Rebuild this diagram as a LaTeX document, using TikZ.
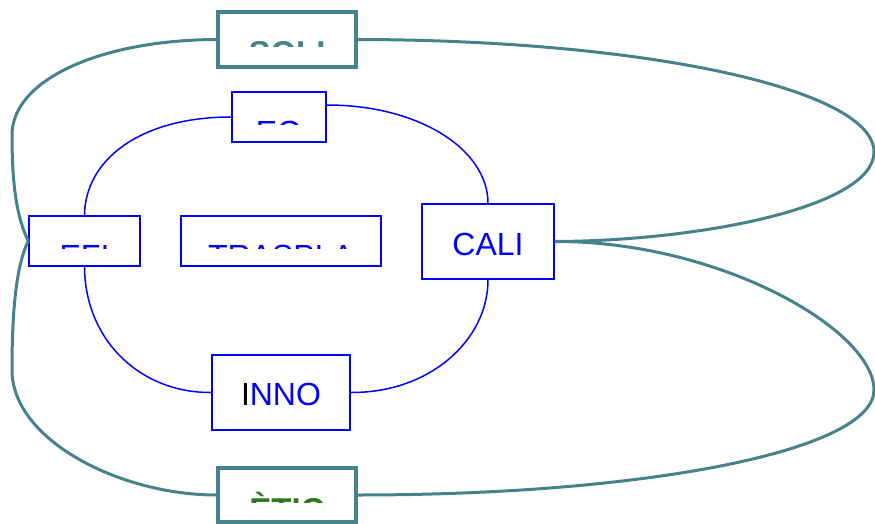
\documentclass[tikz,border=0pt]{standalone}
\usepackage{fontspec}
\setmainfont{Liberation Sans}
\definecolor{tealc}{RGB}{70,130,140}
\definecolor{greenc}{RGB}{46,120,30}
\tikzset{
  bluebox/.style={draw=blue, line width=1.5pt, inner sep=0pt},
  tealbox/.style={draw=tealc, line width=3.2pt, inner sep=0pt},
  blueline/.style={draw=blue, line width=1.5pt},
  tealline/.style={draw=tealc, line width=3pt},
  lbl/.style={font=\fontsize{32}{38}\selectfont, inner sep=0pt, text=blue},
  blbl/.style={font=\fontsize{33}{39}\selectfont\bfseries, inner sep=0pt},
}
\begin{document}
\begin{tikzpicture}[x=1pt,y=-1pt]
\useasboundingbox (0,0) rectangle (875,524);
% boxes
\node[tealbox, minimum width=138pt, minimum height=55pt] (soli) at (287,39.5) {};
\node[bluebox, minimum width=94pt, minimum height=50pt] (eq) at (279,117) {};
\node[bluebox, minimum width=111pt, minimum height=50pt] (efi) at (84.5,241) {};
\node[bluebox, minimum width=200pt, minimum height=50pt] (tras) at (281,241) {};
\node[bluebox, minimum width=132pt, minimum height=75pt] (cali) at (488,241.5) {};
\node[bluebox, minimum width=138pt, minimum height=75pt] (inno) at (281,392.5) {};
\node[tealbox, minimum width=138pt, minimum height=54pt] (etic) at (287,495) {};
% clipped labels
\begin{scope}
  \clip (218,12) rectangle (356,46.5);
  \node[blbl, text=tealc, anchor=base] (soliT) at (287,65) {SOLI};
\end{scope}
\begin{scope}
  \clip (232,92) rectangle (326,124.5);
  \node[lbl, anchor=base] (eqT) at (279,143) {EQ};
\end{scope}
\begin{scope}
  \clip (29,216) rectangle (140,248);
  \node[lbl, anchor=base] (efiT) at (84.5,267) {EFI};
\end{scope}
\begin{scope}
  \clip (181,216) rectangle (381,248);
  \node[lbl, anchor=base] (trasT) at (281,267) {TRASPLA};
\end{scope}
\begin{scope}
  \clip (218,468) rectangle (356,502);
  \node[blbl, text=greenc, anchor=base] (eticT) at (287,521) {ÈTIC};
\end{scope}
\node[lbl] (caliT) at (488,244) {CALI};
\node[lbl] (innoT) at (281,394) {\textcolor{black}{I}NNO};
% teal connectors
\draw[tealline] (soli.west) .. controls (100,40) and (12,80) .. (12,135)
  .. controls (12,190) and (18,220) .. (efi.west);
\draw[tealline] (efi.west) .. controls (18,262) and (12,300) .. (12,370)
  .. controls (12,440) and (120,495) .. (etic.west);
\draw[tealline] (soli.east) .. controls (650,40) and (874,90) .. (874,152)
  .. controls (874,207) and (700,241) .. (cali.east);
\draw[tealline] (cali.east) .. controls (720,241) and (874,330) .. (874,390)
  .. controls (874,450) and (650,495) .. (etic.east);
% blue connectors
\draw[blueline] (eq.west) .. controls (140,117) and (85,160) .. (efi.north);
\draw[blueline] ([yshift=12pt]eq.east) .. controls (420,105) and (488,150) .. (cali.north);
\draw[blueline] (efi.south) .. controls (85,340) and (140,393) .. (inno.west);
\draw[blueline] (inno.east) .. controls (430,393) and (488,340) .. (cali.south);
\end{tikzpicture}
\end{document}
